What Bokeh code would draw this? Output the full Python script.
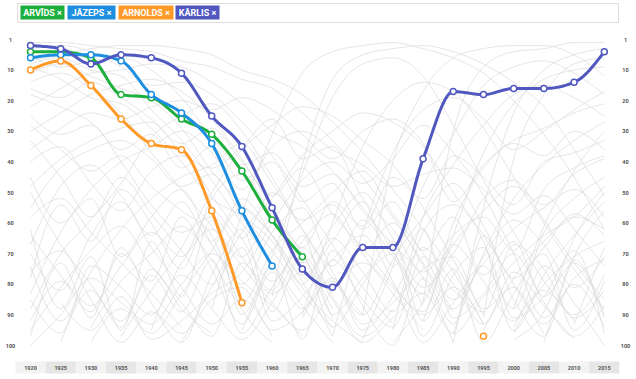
import numpy as np
from bokeh.plotting import figure
from bokeh.models import Range1d
from bokeh.core.properties import value
from bokeh.embed import file_html
from bokeh.resources import INLINE

# ---------------- data ----------------
years = list(range(1920, 2020, 5))
year_labels = [str(y) for y in years]
rank_ticks = [0, 10, 20, 30, 40, 50, 60, 70, 80, 90, 100]
rank_labels = ["1", "10", "20", "30", "40", "50", "60", "70", "80", "90", "100"]

names = ["ARVĪDS", "JĀZEPS", "ARNOLDS", "KĀRLIS"]
colors = ["#1caf3e", "#1e8fe0", "#ff9a28", "#5058bf"]

N = None
arvids = [4, 4, 6, 18, 19, 26, 31, 43, 59, 71, N, N, N, N, N, N, N, N, N, N]
jazeps = [6, 5, 5, 7, 18, 24, 34, 56, 74, N, N, N, N, N, N, N, N, N, N, N]
arnolds = [10, 7, 15, 26, 34, 36, 56, 86, N, N, N, N, N, N, N, 97, N, N, N, N]
karlis = [2, 3, 8, 5, 6, 11, 25, 35, 55, 75, 81, 68, 68, 39, 17, 18, 16, 16, 14, 4]

background_ranks = [
    [14, 11, 16, 24, 37, 49, 61, 74, 86, 97, N, N, N, N, N, N, N, N, N, N],
    [9, 13, 19, 21, 29, 40, 52, 58, 69, 83, 94, N, N, N, N, N, N, N, N, N],
    [30, 24, 18, 15, 13, 17, 26, 39, 55, 70, 88, N, N, N, N, N, 96, 80, 71, 66],
    [55, 42, 36, 33, 39, 48, 44, 57, 66, 81, 92, 99, N, N, N, N, N, N, N, N],
    [88, 70, 59, 47, 32, 25, 21, 30, 45, 62, 78, 90, N, N, N, N, N, N, N, N],
    [N, N, N, 97, 82, 68, 50, 36, 28, 22, 25, 33, 41, 55, 72, 90, N, N, N, N],
    [N, N, N, N, N, N, N, 95, 71, 44, 19, 8, 6, 12, 28, 46, 63, 79, 92, N],
    [N, N, N, N, N, N, N, N, N, 90, 60, 35, 20, 14, 17, 29, 45, 60, 75, 88],
    [N, N, N, N, N, N, N, N, N, N, N, 98, 74, 48, 31, 15, 9, 7, 11, 18],
    [N, N, N, N, N, N, N, N, N, N, N, N, N, 92, 64, 37, 21, 13, 10, 9],
    [3, 2, 4, 9, 15, 14, 18, 27, 38, 52, 67, 81, 93, N, N, N, N, N, N, N],
    [62, 88, 71, 95, 66, 84, 59, 90, 74, 98, 69, 87, 100, 78, 93, 64, 85, 97, 72, 90],
    [97, 73, 91, 68, 86, 99, 77, 62, 89, 71, 94, 80, 66, 92, 75, 99, 83, 70, 95, 79],
    [45, 60, 52, 71, 58, 49, 67, 80, 63, 55, 76, 90, 72, 58, 47, 61, 78, 68, 57, 64],
    [78, 54, 66, 49, 60, 75, 52, 44, 58, 73, 61, 50, 65, 81, 70, 52, 46, 59, 73, 85],
    [N, 99, 82, 94, 75, 88, 96, N, N, 91, 79, 95, 84, 68, 80, 93, 76, 87, 98, N],
    [40, 35, 47, 56, 43, 38, 51, 65, 79, 68, 84, 97, 88, N, N, N, 94, 82, 90, 77],
    [70, 82, 64, 53, 68, 81, 93, 85, 97, N, N, N, 99, 86, 67, 56, 48, 54, 44, 39],
    [25, 31, 28, 40, 54, 63, 58, 71, 83, 76, 91, N, N, N, N, N, N, N, N, N],
    [N, N, 94, 79, 70, 61, 72, 86, 69, 60, 50, 43, 57, 70, 85, 73, 62, 55, 49, 58],
    [18, 22, 27, 36, 31, 42, 35, 46, 40, 53, 47, 62, 53, 69, 58, 77, 66, 84, 73, 91],
    [8, 6, 10, 12, 23, 33, 46, 60, 73, 87, 99, N, N, N, N, N, N, N, N, N],
    [N, N, N, N, N, 99, 81, 63, 52, 38, 30, 24, 27, 35, 50, 64, 80, 96, N, N],
    [N, N, N, N, N, N, N, N, N, N, N, N, N, N, 96, 70, 52, 41, 33, 27],
    [N, N, N, N, N, N, N, N, N, N, N, N, N, N, N, N, 88, 61, 43, 30],
    [92, 79, 87, 74, 63, 71, 56, 65, 50, 62, 74, 59, 71, 83, 67, 79, 92, 74, 86, 100],
    [50, 67, 80, 92, 77, 89, 72, 96, 81, 66, 57, 69, 60, 74, 88, 71, 59, 67, 81, 71],
    [67, 48, 41, 51, 64, 53, 66, 52, 64, 80, 65, 76, 89, 63, 54, 66, 95, 77, 64, 53],
    [33, 45, 58, 45, 57, 69, 80, 68, 92, 84, 72, 64, 79, 99, 86, 74, 88, 63, 52, 45],
    [N, 86, 95, 84, 98, 92, 83, 76, 60, 46, 40, 47, 39, 28, 37, 51, 70, 91, 80, 94],
    [5, 9, 7, 6, 10, 19, 32, 41, 37, 48, 44, 56, 67, 78, 99, N, N, N, N, N],
    [100, 90, 78, 86, 93, 80, 70, 79, 87, 95, 82, 73, 81, 89, 60, 42, 34, 38, 30, 36],
    [N, N, N, N, 95, 77, 88, 98, 86, 71, 85, 99, 91, 83, 96, 84, 73, 64, 58, 48],
    [58, 52, 63, 73, 83, 94, N, N, N, N, N, N, N, N, N, 95, 78, 66, 58, 62],
    [74, 92, 76, 62, 52, 45, 41, 34, 47, 59, 54, 70, 83, 95, N, N, N, N, N, N],
    [83, 63, 49, 40, 35, 30, 37, 49, 35, 30, 36, 41, 48, 44, 42, 49, 57, 51, 62, 74],
    [N, N, N, N, N, N, N, N, N, N, N, N, N, N, N, N, N, 99, 71, 56],
    [16, 19, 14, 19, 26, 34, 29, 40, 51, 42, 57, 68, 80, 90, 81, 93, N, N, N, N],
    [1, 1, 2, 3, 4, 7, 9, 13, 16, 24, 33, 45, 58, 73, 89, N, N, N, N, N],
    [7, 5, 3, 2, 2, 3, 5, 10, 13, 18, 27, 37, 49, 62, 76, 93, N, N, N, N],
    [N, N, N, N, N, N, 88, 57, 31, 11, 4, 2, 1, 3, 6, 11, 20, 31, 45, 62],
    [N, N, N, N, N, N, N, N, 84, 41, 13, 5, 3, 2, 4, 8, 14, 22, 36, 51],
    [N, N, N, N, N, N, N, N, N, N, N, 90, 40, 17, 6, 3, 2, 2, 5, 12],
    [N, N, N, N, N, N, N, N, N, N, N, N, N, 86, 30, 9, 4, 3, 1, 1],
    [N, N, N, N, N, N, N, N, N, N, N, N, N, N, 99, 55, 24, 10, 5, 3],
    [N, N, N, N, N, N, N, N, N, N, N, N, N, N, N, 91, 39, 18, 8, 6],
    [11, 8, 12, 16, 20, 29, 43, 54, 64, 79, 97, N, N, N, N, N, N, N, N, N],
    [22, 16, 11, 10, 8, 9, 14, 21, 30, 35, 43, 55, 69, 87, N, N, N, N, N, N],
    [36, 29, 24, 26, 22, 20, 23, 19, 23, 31, 39, 30, 26, 34, 53, 41, 33, 29, 24, 21],
    [N, N, N, N, N, N, N, N, N, N, 97, 63, 37, 23, 19, 26, 36, 30, 23, 17],
    [N, N, N, N, N, N, N, N, N, N, N, N, 95, 58, 41, 28, 18, 15, 19, 25],
    [85, 96, 74, 81, 90, 73, 62, 71, 59, 68, 53, 61, 45, 52, 38, 45, 54, 40, 37, 33],
    [64, 77, 89, 70, 79, 58, 75, 93, 76, 88, 72, 85, 94, 71, 82, 89, 67, 75, 91, 82],
    [95, 81, 69, 61, 74, 86, 97, 73, 82, 64, 90, 78, 70, 97, 77, 68, 91, 84, 69, 96],
    [N, N, 99, 88, 96, 83, 69, 55, 64, 77, 66, 53, 74, 62, 91, 83, 70, 86, 97, 87],
    [48, 39, 33, 29, 27, 37, 42, 35, 26, 39, 35, 52, 62, 76, 64, 58, 69, 49, 42, 38],
    [N, N, N, N, N, N, N, N, N, N, N, N, N, N, N, N, N, N, 93, 68],
    [76, 69, 85, 99, 89, 96, 85, 81, 95, 89, 78, 93, 86, 75, 71, 88, 81, 93, 78, 72],
    [28, 36, 43, 38, 48, 56, 64, 88, 99, N, N, N, N, N, N, N, 98, 89, 65, 50],
]

# ---------------- geometry ----------------
W, H = 636, 379
XS = 6.04   # px per year
YS = 3.06   # px per rank
X0 = 1920 - 30 / XS
Y0 = -39 / YS


def px_x(px):
    return X0 + px / XS


def px_y(py):
    return Y0 + py / YS


def monotone(xs, ys, n=14):
    xs = np.asarray(xs, float)
    ys = np.asarray(ys, float)
    m = len(xs)
    if m < 2:
        return [], []
    h = np.diff(xs)
    s = np.diff(ys) / h
    t = np.zeros(m)
    if m == 2:
        t[:] = s[0]
    else:
        for i in range(1, m - 1):
            s0, s1, h0, h1 = s[i - 1], s[i], h[i - 1], h[i]
            pp = (s0 * h1 + s1 * h0) / (h0 + h1)
            t[i] = (np.sign(s0) + np.sign(s1)) * min(abs(s0), abs(s1), 0.5 * abs(pp))
        t[0] = (3 * s[0] - t[1]) / 2
        t[-1] = (3 * s[-1] - t[-2]) / 2
    ox, oy = [xs[0]], [ys[0]]
    u = np.linspace(0, 1, n + 1)[1:]
    for i in range(m - 1):
        dx = h[i] / 3
        P0 = (xs[i], ys[i])
        P1 = (xs[i] + dx, ys[i] + dx * t[i])
        P2 = (xs[i + 1] - dx, ys[i + 1] - dx * t[i + 1])
        P3 = (xs[i + 1], ys[i + 1])
        a = (1 - u) ** 3
        b = 3 * (1 - u) ** 2 * u
        c = 3 * (1 - u) * u ** 2
        d = u ** 3
        ox += list(a * P0[0] + b * P1[0] + c * P2[0] + d * P3[0])
        oy += list(a * P0[1] + b * P1[1] + c * P2[1] + d * P3[1])
    return ox, oy


def segments(vals):
    segs, cx, cy = [], [], []
    for yr, v in zip(years, vals):
        if v is None:
            if cx:
                segs.append((cx, cy))
            cx, cy = [], []
        else:
            cx.append(yr)
            cy.append(v)
    if cx:
        segs.append((cx, cy))
    return segs


p = figure(width=W, height=H, output_backend="svg", toolbar_location=None,
           x_range=Range1d(X0, X0 + W / XS), y_range=Range1d(Y0 + H / YS, Y0),
           x_axis_location=None, y_axis_location=None, min_border=0)
p.outline_line_color = None
p.grid.visible = False
p.background_fill_color = "white"
p.border_fill_color = "white"

# background lines
bx, by = [], []
for series in background_ranks:
    for sx, sy in segments(series):
        cx, cy = monotone(sx, sy)
        if cx:
            bx.append(cx)
            by.append(cy)
p.multi_line(bx, by, line_color="#dadada", line_width=1, line_alpha=0.7)

# highlighted names
for name, col, vals in zip(names, colors, [arvids, jazeps, arnolds, karlis]):
    lx, ly = [], []
    for sx, sy in segments(vals):
        cx, cy = monotone(sx, sy)
        if cx:
            lx.append(cx)
            ly.append(cy)
    p.multi_line(lx, ly, line_color=col, line_width=3, line_cap="round", line_join="round")
    mx = [yr for yr, v in zip(years, vals) if v is not None]
    my = [v for v in vals if v is not None]
    p.scatter(mx, my, size=6, fill_color="white", line_color=col, line_width=1.5)

# y-axis labels (both sides)
for side_px in (10, 625):
    p.text([px_x(side_px)] * len(rank_ticks), rank_ticks, text=rank_labels,
           text_align="center", text_baseline="middle", text_font=value("Roboto"),
           text_font_style="bold", text_font_size=value("5.5px"), text_color="#555555")

# x-axis label boxes
box_cols = ["#f3f3f3" if i % 2 == 0 else "#e6e6e6" for i in range(len(years))]
p.rect(x=years, y=[px_y(367)] * len(years), width=5, height=12 / YS,
       fill_color=box_cols, line_color=None)
p.text(years, [px_y(367.5)] * len(years), text=year_labels,
       text_align="center", text_baseline="middle", text_font=value("Roboto"),
       text_font_style="bold", text_font_size=value("5.5px"), text_color="#555555")

# legend bar
p.quad(left=[px_x(17)], right=[px_x(618)], top=[px_y(3)], bottom=[px_y(22)],
       fill_color="white", line_color="#dddddd", line_width=1)
chip_l = [20, 67, 118, 175]
chip_r = [64, 115, 173, 219]
p.quad(left=[px_x(v) for v in chip_l], right=[px_x(v) for v in chip_r],
       top=[px_y(5)] * 4, bottom=[px_y(19)] * 4, fill_color=colors, line_color=None)
p.text([px_x((a + b) / 2) for a, b in zip(chip_l, chip_r)], [px_y(12.5)] * 4,
       text=[n + " ×" for n in names], text_align="center", text_baseline="middle",
       text_font=value("Roboto"), text_font_style="bold",
       text_font_size=value("9px"), text_color="white")

html = file_html(p, INLINE)
html = html.replace("</head>", "<style>html,body{margin:0;padding:0;overflow:hidden;}</style></head>", 1)
open("out.html", "w").write(html)
